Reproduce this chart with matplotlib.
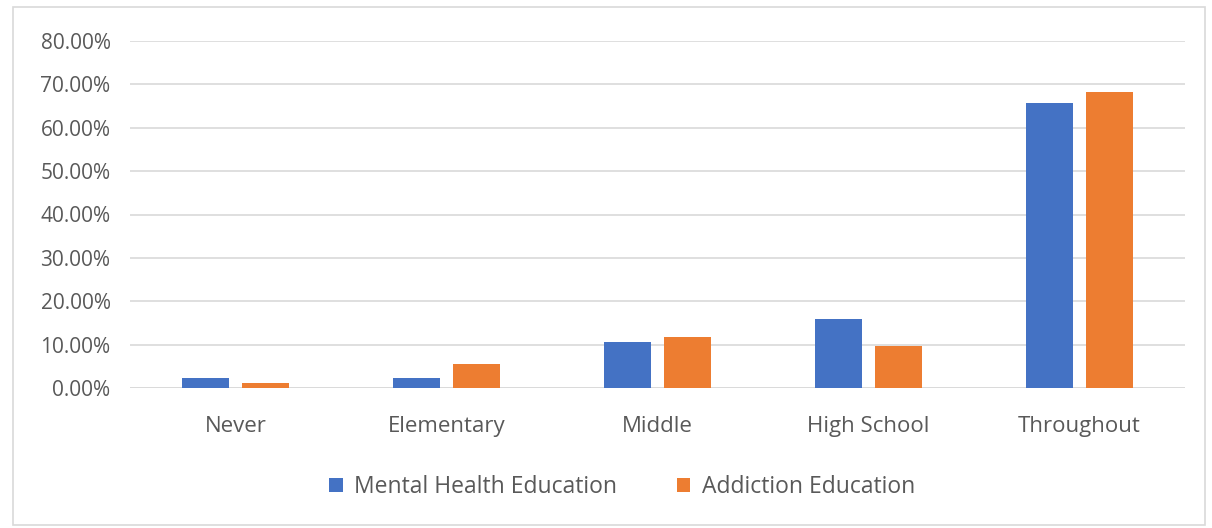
import numpy as np
import matplotlib.pyplot as plt
from matplotlib.patches import Rectangle
from matplotlib.ticker import FuncFormatter

# Data
categories = ["Never", "Elementary", "Middle", "High School", "Throughout"]
mental_health = [2.2, 2.2, 10.6, 15.9, 65.6]
addiction = [1.2, 5.5, 11.8, 9.7, 68.3]
series_names = ["Mental Health Education", "Addiction Education"]
colors = ["#4472C4", "#ED7D31"]

plt.rcParams['font.family'] = ['Open Sans', 'DejaVu Sans']
text_color = "#595959"

fig = plt.figure(figsize=(12.12, 5.28), dpi=100)
ax = fig.add_axes([130 / 1212, 1 - 388 / 528, 1055 / 1212, 347 / 528])

x = np.arange(len(categories))
width = 0.223
offset = 0.14
ax.bar(x - offset, mental_health, width, color=colors[0], label=series_names[0])
ax.bar(x + offset, addiction, width, color=colors[1], label=series_names[1])

ax.set_xlim(-0.5, len(categories) - 0.5)
ax.set_ylim(0, 80)
ax.set_yticks(np.arange(0, 81, 10))
ax.yaxis.set_major_formatter(FuncFormatter(lambda v, _: f"{v:.2f}%"))
ax.set_xticks(x)
ax.set_xticklabels(categories)
ax.tick_params(axis='both', length=0, colors=text_color)
ax.tick_params(axis='y', pad=14, labelsize=15)
ax.tick_params(axis='x', pad=20, labelsize=16)
ax.grid(axis='y', color="#D9D9D9", linewidth=1.2)
ax.set_axisbelow(True)
for s in ax.spines.values():
    s.set_visible(False)
ax.axhline(0, color="#D9D9D9", linewidth=1.2, zorder=0)

leg = fig.legend(loc='center', bbox_to_anchor=(622 / 1212, 1 - 487 / 528), ncol=2,
                 frameon=False, fontsize=16.5, handlelength=0.6, handleheight=0.6,
                 columnspacing=2.6, handletextpad=0.5)
for t in leg.get_texts():
    t.set_color(text_color)

# light chart border
fig.patches.append(Rectangle((13 / 1212, 0.005), 1 - 20 / 1212, 1 - 7 / 528 - 0.005,
                             transform=fig.transFigure, fill=False,
                             edgecolor="#D9D9D9", linewidth=1.2))

fig.savefig("out.png", dpi=100)
